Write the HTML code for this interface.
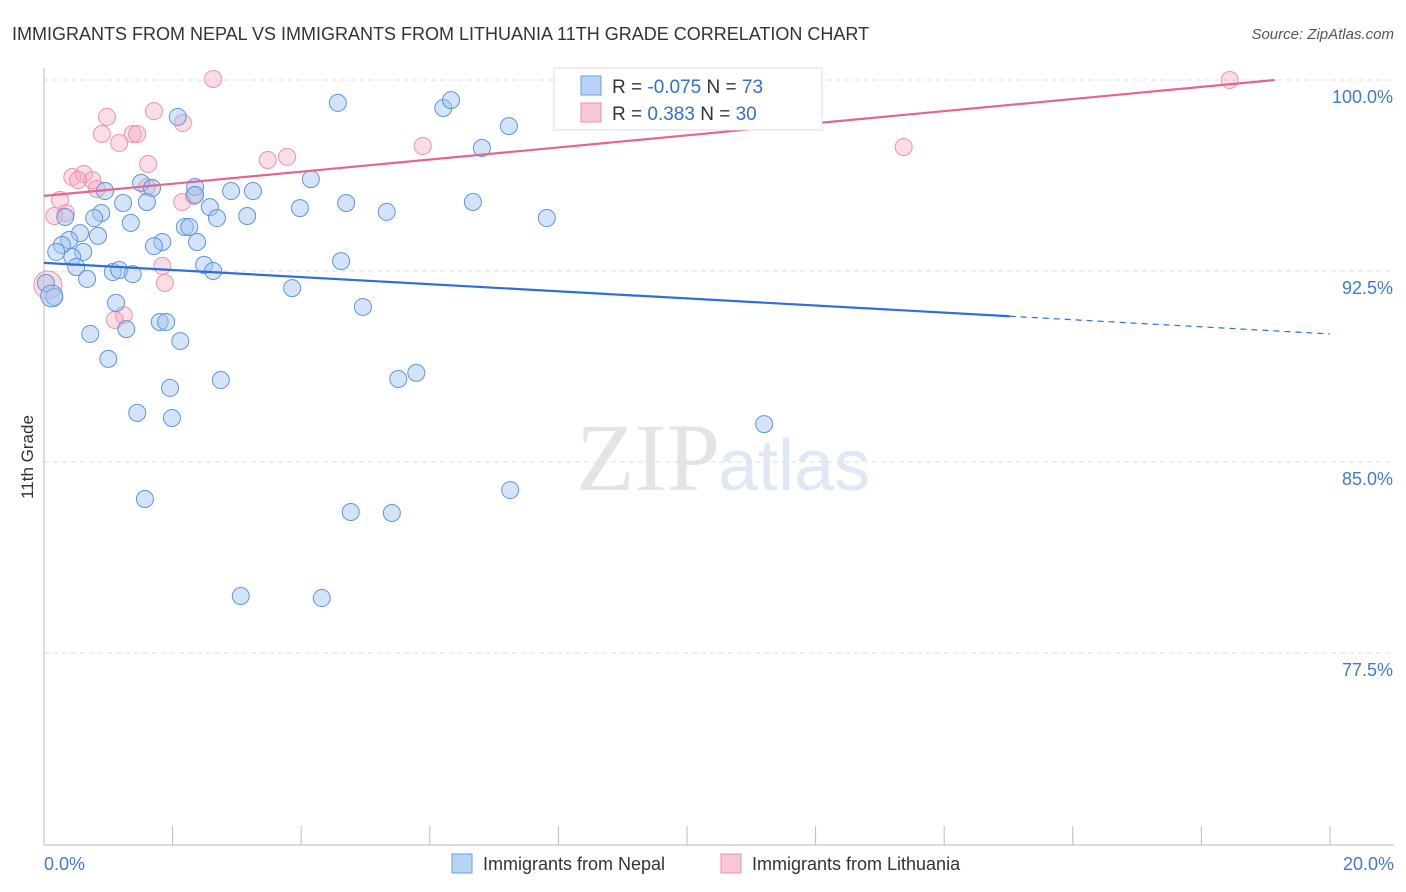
<!DOCTYPE html>
<html><head><meta charset="utf-8"><style>
body{margin:0;background:#fff;font-family:"Liberation Sans",sans-serif;}
svg{display:block}
</style></head><body>
<svg width="1406" height="892" xmlns="http://www.w3.org/2000/svg">
<text x="12" y="40" font-size="18" fill="#333">IMMIGRANTS FROM NEPAL VS IMMIGRANTS FROM LITHUANIA 11TH GRADE CORRELATION CHART</text>
<text x="1394" y="39" font-size="15" fill="#555" font-style="italic" text-anchor="end">Source: ZipAtlas.com</text>
<text x="33" y="457" font-size="17" fill="#333" text-anchor="middle" transform="rotate(-90 33 457)">11th Grade</text>
<text x="720" y="490" font-size="96" fill="#e4e4e4" text-anchor="end" font-family="Liberation Serif,serif">ZIP</text>
<text x="718" y="490" font-size="72" fill="#dfe8f6">atlas</text>
<g id="grid"></g><g id="axes"></g><g id="pink"></g><g id="blue"></g><g id="lines"></g>
<g>
<rect x="554" y="68" width="268" height="62" fill="#fff" stroke="#ddd"/>
<rect x="581" y="76" width="20" height="19" fill="#b8d3f5" stroke="#6a9de0"/>
<rect x="581" y="103" width="20" height="19" fill="#f9c6d4" stroke="#ec93ad"/>
<text x="612" y="93" font-size="19" fill="#333">R = <tspan fill="#2f6fd6">-0.075</tspan>   N = <tspan fill="#2f6fd6">73</tspan></text>
<text x="612" y="120" font-size="19" fill="#333">R =   <tspan fill="#2f6fd6">0.383</tspan>   N = <tspan fill="#2f6fd6">30</tspan></text>
</g>
<g>
<rect x="452" y="854" width="20" height="19" fill="#b8d3f5" stroke="#6a9de0"/>
<text x="483" y="870" font-size="18" fill="#333">Immigrants from Nepal</text>
<rect x="721" y="854" width="20" height="19" fill="#f9c6d4" stroke="#ec93ad"/>
<text x="752" y="870" font-size="18" fill="#333">Immigrants from Lithuania</text>
</g>
</svg>
<script>
const blueX=[2.08,4.57,6.21,6.33,7.23,6.81,1.51,0.95,1.68,2.35,2.91,3.25,4.15,1.23,1.60,2.58,2.35,3.98,4.70,5.33,6.67,7.82,0.89,0.78,0.33,1.35,2.69,3.16,2.19,2.26,0.56,0.84,0.39,0.28,1.84,1.71,2.38,0.19,0.61,0.44,4.62,0.50,2.49,1.07,1.17,1.38,2.63,0.67,3.86,0.03,0.16,1.12,4.96,1.80,1.90,0.72,1.28,2.12,1.00,2.75,1.96,5.51,5.79,1.45,1.99,11.20,1.57,7.25,4.77,5.41,3.06,4.32,0.12];
const blueY=[98.55,99.10,98.90,99.21,98.19,97.33,95.96,95.64,95.76,95.80,95.64,95.64,96.11,95.17,95.21,95.01,95.49,94.97,95.17,94.82,95.21,94.58,94.78,94.58,94.62,94.39,94.58,94.66,94.23,94.23,93.99,93.88,93.72,93.52,93.64,93.48,93.64,93.25,93.25,93.05,92.89,92.66,92.74,92.46,92.54,92.38,92.50,92.19,91.83,92.03,91.48,91.25,91.09,90.50,90.50,90.03,90.22,89.75,89.05,88.22,87.91,88.26,88.50,86.93,86.73,86.49,83.55,83.90,83.04,83.00,79.74,79.66,91.52];
const pinkX=[2.63,0.98,1.71,2.16,0.90,1.38,1.45,1.17,1.62,0.44,0.62,0.75,0.53,0.82,1.60,2.33,2.15,0.25,0.34,0.16,3.48,3.78,5.89,13.37,18.44,1.84,1.88,1.24,1.10,0.06];
const pinkY=[100.04,98.55,98.78,98.31,97.88,97.88,97.88,97.53,96.70,96.19,96.31,96.07,96.07,95.72,95.80,95.45,95.21,95.29,94.78,94.66,96.86,96.98,97.41,97.37,100.0,92.70,92.03,90.77,90.58,91.95];
const yTicks=[100,92.5,85,77.5];
const yTickLabels=["100.0%","92.5%","85.0%","77.5%"];
const xTickLabels=["0.0%","20.0%"];
const blueFit=[92.82,90.03];
const pinkFit=[95.45,100.0];
const pinkFitEnd=19.14;
const blueSolidEnd=15.02;

const NS="http://www.w3.org/2000/svg";
const xs=v=>44+v/20*1286;
const ys=v=>80+(100-v)*25.47;
function mk(t,a,p){const e=document.createElementNS(NS,t);for(const k in a)e.setAttribute(k,a[k]);document.getElementById(p).appendChild(e);return e;}
yTicks.forEach((t,i)=>{
 const l=mk('line',{x1:44,x2:1394,y1:ys(t),y2:ys(t),stroke:'#ddd','stroke-dasharray':'5,4'},'grid');
 
 
 const tx=mk('text',{x:1393,y:ys(t)+23,'font-size':18,fill:'#3d7ad8','text-anchor':'end'},'grid');
 tx.textContent=yTickLabels[i];
 
 
});
const ax=mk('line',{x1:44,x2:1394,y1:845,y2:845,stroke:'#bbb'},'axes');


const ay=mk('line',{x1:44,x2:44,y1:68,y2:845,stroke:'#bbb'},'axes');


for(let i=0;i<=10;i++){const t=mk('line',{x1:xs(i*2),x2:xs(i*2),y1:826,y2:845,stroke:'#bbb'},'axes');
 
 }
[[0,'start',44],[1,'end',1394]].forEach(([i,a,x])=>{const t=mk('text',{x:x,y:870,'font-size':18,fill:'#3d7ad8','text-anchor':a},'axes');t.textContent=xTickLabels[i];
 
 });
pinkX.forEach((x,i)=>{const c=mk('circle',{cx:xs(x),cy:ys(pinkY[i]),r:i==pinkX.length-1?14:8.5,fill:'rgba(246,170,192,0.4)',stroke:'#ec93ad','stroke-width':1},'pink');
 
 });
blueX.forEach((x,i)=>{const c=mk('circle',{cx:xs(x),cy:ys(blueY[i]),r:i==blueX.length-1?11:8.5,fill:'rgba(160,196,240,0.45)',stroke:'#5d95df','stroke-width':1},'blue');
 
 });
const bAt=x=>blueFit[0]+(blueFit[1]-blueFit[0])*x/20;
const b1=mk('line',{x1:xs(0),y1:ys(bAt(0)),x2:xs(blueSolidEnd),y2:ys(bAt(blueSolidEnd)),stroke:'#2f6fd6','stroke-width':2.2},'lines');


const b2=mk('line',{x1:xs(blueSolidEnd),y1:ys(bAt(blueSolidEnd)),x2:xs(20),y2:ys(bAt(20)),stroke:'#2f6fd6','stroke-width':1.2,'stroke-dasharray':'6,5'},'lines');


const p1=mk('line',{x1:xs(0),y1:ys(pinkFit[0]),x2:xs(pinkFitEnd),y2:ys(pinkFit[1]),stroke:'#e4668e','stroke-width':2.2},'lines');


</script>
</body></html>
